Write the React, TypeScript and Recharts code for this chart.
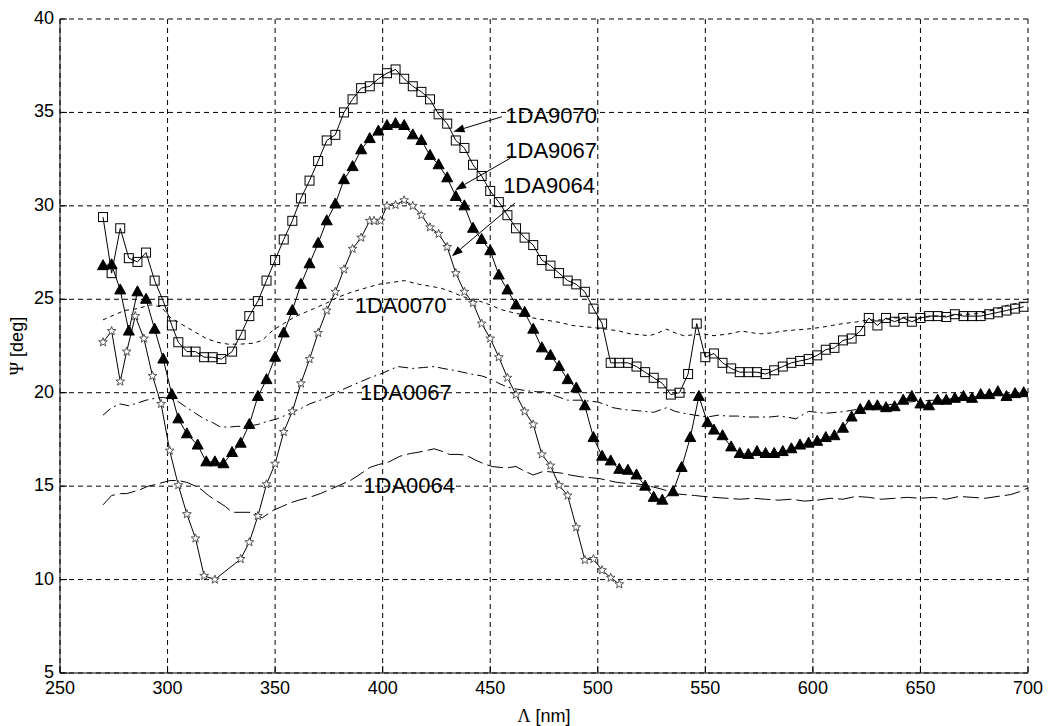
import React from 'react';
import { LineChart, Line, XAxis, YAxis, CartesianGrid, ReferenceLine, ReferenceDot } from 'recharts';

type Pt = [number, number];

const xTicks = [250, 300, 350, 400, 450, 500, 550, 600, 650, 700];
const yTicks = [5, 10, 15, 20, 25, 30, 35, 40];

// 1DA9070 - open squares
const sq9070: Pt[] = [
  [270, 29.4], [274, 26.4], [278, 28.8], [282, 27.2], [286, 27.0], [290, 27.5], [294, 26.0], [298, 24.9],
  [302, 23.6], [305, 22.7], [309, 22.2], [313, 22.2], [317, 21.9], [321, 21.9], [325, 21.8], [330, 22.2],
  [334, 23.1], [338, 24.1], [342, 24.9], [346, 26.0], [350, 27.1], [354, 28.2], [358, 29.2], [362, 30.4],
  [366, 31.35], [370, 32.4], [374, 33.5], [378, 33.8], [382, 35.0], [386, 35.7], [390, 36.3], [394, 36.4],
  [398, 36.8], [402, 37.1], [406, 37.3], [410, 36.8], [414, 36.4], [418, 36.1], [422, 35.7], [426, 34.9],
  [430, 34.4], [434, 33.5], [438, 33.1], [442, 32.2], [446, 31.6], [450, 30.8], [454, 30.2], [458, 29.5],
  [462, 28.8], [466, 28.3], [470, 27.9], [474, 27.1], [478, 26.8], [482, 26.4], [486, 26.0], [490, 25.8],
  [494, 25.4], [498, 24.5], [502, 23.7], [506, 21.6], [510, 21.6], [514, 21.6], [518, 21.4], [522, 21.1],
  [526, 20.8], [530, 20.5], [534, 19.9], [538, 20.0], [542, 21.0], [546, 23.7], [550, 21.9], [554, 22.1],
  [558, 21.6], [562, 21.3], [566, 21.1], [570, 21.1], [574, 21.1], [578, 21.0], [582, 21.2], [586, 21.4],
  [590, 21.6], [594, 21.7], [598, 21.8], [602, 22.0], [606, 22.3], [610, 22.4], [614, 22.8], [618, 22.9],
  [622, 23.3], [626, 24.0], [630, 23.6], [634, 24.0], [638, 23.8], [642, 24.0], [646, 23.8], [650, 24.0],
  [654, 24.1], [658, 24.1], [662, 24.05], [666, 24.2], [670, 24.1], [674, 24.1], [678, 24.1], [682, 24.2],
  [686, 24.3], [690, 24.4], [694, 24.5], [698, 24.6],
];

// 1DA9067 - filled triangles
const tri9067: Pt[] = [
  [270, 26.8], [274, 26.85], [278, 25.5], [282, 23.3], [286, 25.4], [290, 25.0], [294, 23.4], [298, 21.8],
  [302, 19.9], [305, 18.6], [309, 17.8], [314, 17.2], [318, 16.3], [322, 16.3], [326, 16.2], [330, 16.8],
  [334, 17.3], [338, 18.3], [342, 19.8], [346, 20.7], [350, 21.9], [354, 23.2], [358, 24.4], [362, 25.8],
  [366, 26.9], [370, 28.0], [374, 29.2], [378, 30.1], [382, 31.4], [386, 32.1], [390, 33.0], [394, 33.6],
  [398, 34.0], [402, 34.3], [406, 34.4], [410, 34.3], [414, 33.8], [418, 33.5], [422, 32.7], [426, 32.2],
  [430, 31.5], [434, 30.5], [438, 30.0], [442, 28.8], [446, 28.2], [450, 27.6], [454, 26.3], [458, 25.5],
  [462, 24.7], [466, 24.3], [470, 23.4], [474, 22.4], [478, 22.0], [482, 21.4], [486, 20.7], [490, 20.25],
  [494, 19.3], [498, 17.6], [502, 16.6], [506, 16.35], [510, 15.9], [514, 15.85], [518, 15.6], [522, 15.0],
  [526, 14.4], [530, 14.25], [535, 14.7], [539, 16.0], [543, 17.6], [547, 19.8], [551, 18.4], [554, 18.0],
  [558, 17.7], [562, 17.1], [566, 16.75], [570, 16.7], [574, 16.85], [578, 16.75], [582, 16.75], [586, 16.85],
  [590, 17.0], [594, 17.2], [598, 17.3], [602, 17.4], [606, 17.6], [610, 17.7], [614, 18.1], [618, 18.7],
  [622, 19.1], [626, 19.3], [630, 19.3], [634, 19.2], [638, 19.25], [642, 19.6], [646, 19.8], [650, 19.4],
  [654, 19.3], [658, 19.6], [662, 19.6], [666, 19.7], [670, 19.8], [674, 19.7], [678, 19.9], [682, 19.9],
  [686, 20.05], [690, 19.8], [694, 19.95], [698, 20.0],
];

// 1DA9064 - stars
const star9064: Pt[] = [
  [270, 22.7], [274, 23.3], [278, 20.6], [281, 22.2], [285, 24.1], [289, 22.9], [293, 20.9], [297, 19.4],
  [301, 16.9], [305, 15.05], [309, 13.5], [313, 12.2], [317, 10.2], [322, 10.0], [334, 11.1], [338, 12.0],
  [342, 13.4], [346, 15.1], [350, 16.2], [354, 17.9], [358, 19.0], [362, 20.5], [366, 21.8], [370, 23.2],
  [374, 24.4], [378, 25.4], [382, 26.6], [386, 27.7], [390, 28.3], [394, 29.2], [396, 29.2], [399, 29.2],
  [402, 30.0], [406, 30.05], [410, 30.3], [414, 30.0], [418, 29.5], [422, 28.85], [426, 28.5], [430, 27.8],
  [434, 26.4], [438, 25.4], [442, 24.8], [446, 23.7], [450, 22.9], [454, 21.9], [458, 20.8], [462, 19.9],
  [466, 19.0], [470, 18.3], [474, 16.7], [478, 16.1], [482, 15.05], [486, 14.5], [490, 12.8], [494, 11.05],
  [498, 11.1], [502, 10.5], [506, 10.1], [510, 9.75],
];

// 1DA0070 - dashed
const c0070: Pt[] = [
  [270, 23.9], [275, 24.15], [280, 24.4], [286, 24.5], [292, 24.7], [297, 24.6], [301, 24.05], [306, 23.7],
  [312, 23.3], [318, 22.9], [323, 22.7], [328, 22.6], [334, 22.6], [340, 22.65], [344, 22.8], [349, 23.35],
  [354, 23.7], [359, 24.05], [364, 24.3], [368, 24.5], [374, 24.8], [379, 25.1], [386, 25.4], [392, 25.6],
  [398, 25.8], [404, 25.9], [410, 26.0], [417, 25.8], [422, 25.7], [427, 25.6], [432, 25.4], [436, 25.2],
  [441, 25.0], [445, 24.9], [450, 24.7], [455, 24.45], [460, 24.3], [464, 24.2], [470, 24.0], [475, 23.9],
  [483, 23.75], [488, 23.6], [492, 23.55], [497, 23.5], [504, 23.4], [510, 23.3], [515, 23.15], [520, 23.1],
  [524, 23.05], [528, 23.2], [532, 23.4], [536, 23.2], [540, 23.05], [545, 23.1], [549, 23.15], [554, 23.05],
  [561, 23.15], [567, 23.3], [572, 23.2], [576, 23.15], [581, 23.2], [586, 23.3], [591, 23.35], [597, 23.4],
  [604, 23.5], [609, 23.6], [614, 23.7], [621, 23.8], [626, 23.9], [632, 23.9], [638, 24.0], [644, 24.05],
  [650, 24.0], [656, 24.1], [662, 24.1], [668, 24.2], [674, 24.2], [680, 24.3], [686, 24.5], [691, 24.7],
  [696, 24.8], [700, 24.85],
];

// 1DA0067 - dash-dot
const c0067: Pt[] = [
  [270, 18.8], [274, 19.2], [278, 19.4], [282, 19.3], [286, 19.45], [290, 19.6], [294, 19.7], [298, 19.75],
  [304, 19.6], [309, 19.2], [313, 18.9], [317, 18.6], [321, 18.4], [324, 18.2], [328, 18.15], [332, 18.2],
  [337, 18.2], [342, 18.3], [346, 18.45], [351, 18.6], [356, 18.85], [362, 19.15], [366, 19.4], [371, 19.6],
  [376, 19.85], [380, 20.1], [385, 20.35], [390, 20.6], [394, 20.8], [399, 21.0], [403, 21.2], [407, 21.4],
  [414, 21.3], [419, 21.35], [424, 21.4], [428, 21.3], [433, 21.2], [437, 21.1], [441, 21.0], [446, 20.9],
  [450, 20.75], [454, 20.5], [458, 20.3], [462, 20.2], [467, 20.1], [472, 20.05], [476, 20.05], [481, 19.8],
  [486, 19.6], [492, 19.6], [496, 19.55], [500, 19.5], [504, 19.35], [507, 19.2], [512, 19.1], [517, 19.05],
  [522, 19.0], [526, 18.95], [532, 19.2], [536, 19.0], [540, 18.9], [545, 18.8], [551, 18.7], [556, 18.8],
  [560, 18.75], [565, 18.75], [570, 18.7], [575, 18.7], [580, 18.7], [584, 18.75], [588, 18.7], [592, 18.6],
  [598, 19.0], [602, 18.95], [606, 18.9], [611, 18.95], [615, 19.0], [620, 19.1], [626, 19.25], [632, 19.3],
  [638, 19.4], [644, 19.5], [650, 19.55], [656, 19.6], [662, 19.65], [668, 19.7], [674, 19.75], [680, 19.8],
  [686, 19.85], [692, 19.9], [700, 20.0],
];

// 1DA0064 - long dash
const c0064: Pt[] = [
  [270, 14.0], [274, 14.5], [278, 14.6], [281, 14.6], [287, 14.8], [291, 15.0], [295, 15.1], [301, 15.3],
  [305, 15.3], [309, 15.2], [313, 15.0], [316, 14.8], [319, 14.5], [323, 14.2], [327, 13.9], [330, 13.6],
  [335, 13.6], [340, 13.6], [344, 13.3], [349, 13.7], [353, 13.9], [357, 14.1], [361, 14.25], [366, 14.4],
  [371, 14.6], [375, 14.8], [380, 15.05], [385, 15.3], [389, 15.6], [394, 16.0], [398, 16.15], [403, 16.3],
  [408, 16.6], [413, 16.75], [416, 16.8], [420, 16.9], [424, 17.0], [428, 16.85], [431, 16.7], [435, 16.7],
  [439, 16.65], [443, 16.4], [447, 16.2], [451, 16.05], [455, 16.0], [459, 16.0], [462, 16.05], [466, 15.8],
  [470, 15.6], [475, 15.8], [479, 15.75], [483, 15.7], [487, 15.6], [492, 15.5], [497, 15.45], [501, 15.4],
  [505, 15.3], [509, 15.2], [513, 15.15], [517, 15.15], [522, 15.05], [526, 14.95], [531, 14.8], [535, 14.6],
  [540, 14.55], [545, 14.5], [549, 14.45], [554, 14.4], [560, 14.35], [566, 14.3], [572, 14.35], [578, 14.3],
  [584, 14.25], [590, 14.3], [596, 14.2], [602, 14.25], [608, 14.35], [614, 14.3], [620, 14.45], [626, 14.4],
  [632, 14.3], [638, 14.35], [644, 14.4], [650, 14.35], [656, 14.4], [662, 14.3], [668, 14.45], [674, 14.4],
  [680, 14.35], [686, 14.45], [692, 14.55], [696, 14.7], [700, 14.9],
];

// labels in the plot, anchored at their left edge / vertical centre (data units)
const labelNames = ['1DA9070', '1DA9067', '1DA9064', '1DA0070', '1DA0067', '1DA0064'];
const labelX = [457, 457, 456, 387, 389.5, 391];
const labelY = [34.85, 33.0, 31.1, 24.7, 20.06, 15.07];

// arrows from the labels to the curves: [fromX, fromY, toX, toY]
const arrows: [number, number, number, number][] = [
  [455.4, 34.77, 432.9, 33.97],
  [459.3, 32.55, 433.7, 30.85],
  [461.6, 30.16, 432.2, 27.3],
];

const FONT = 'Liberation Sans, Arial, Helvetica, sans-serif';
const TICK_LEN = 7;

const rows = (pts: Pt[]) => pts.map(([x, y]) => ({ x, y }));

const SquareDot = (p: any) => (
  <rect key={p.key} x={p.cx - 4.5} y={p.cy - 4.5} width={9} height={9} fill="none" stroke="#000" strokeWidth={1} />
);

const TriangleDot = (p: any) => (
  <polygon
    key={p.key}
    points={`${p.cx},${p.cy - 6} ${p.cx - 5.5},${p.cy + 4} ${p.cx + 5.5},${p.cy + 4}`}
    fill="#000"
    stroke="#000"
  />
);

const StarDot = (p: any) => {
  const pts: string[] = [];
  for (let i = 0; i < 10; i++) {
    const r = i % 2 === 0 ? 4.6 : 1.9;
    const a = -Math.PI / 2 + (i * Math.PI) / 5;
    pts.push(`${p.cx + r * Math.cos(a)},${p.cy + r * Math.sin(a)}`);
  }
  return <polygon key={p.key} points={pts.join(' ')} fill="#fff" stroke="#444" strokeWidth={0.9} />;
};

const BottomTick = (p: any) => {
  const { x, y, payload } = p;
  const axisY = y - 6;
  return (
    <g>
      <line x1={x} y1={axisY} x2={x} y2={axisY - TICK_LEN} stroke="#000" />
      <text x={x} y={y + 15} textAnchor="middle" fontSize={18} fontFamily={FONT} fill="#000">
        {payload.value}
      </text>
    </g>
  );
};

const LeftTick = (p: any) => {
  const { x, y, payload } = p;
  const axisX = x + 6;
  return (
    <g>
      <line x1={axisX} y1={y} x2={axisX + TICK_LEN} y2={y} stroke="#000" />
      <text x={x} y={y + 5} textAnchor="end" fontSize={18} fontFamily={FONT} fill="#000">
        {payload.value}
      </text>
    </g>
  );
};

const TopTick = (p: any) => (
  <line x1={p.x} y1={p.y} x2={p.x} y2={p.y + TICK_LEN} stroke="#000" />
);

const RightTick = (p: any) => (
  <line x1={p.x} y1={p.y} x2={p.x - TICK_LEN} y2={p.y} stroke="#000" />
);

const XLabel = (p: any) => {
  const vb = p.viewBox;
  return (
    <text x={vb.x + vb.width / 2} y={vb.y + vb.height - 4} textAnchor="middle" fontSize={18} fontFamily={FONT} fill="#000">
      <tspan fontFamily="Liberation Serif, serif">Λ</tspan> [nm]
    </text>
  );
};

const YLabel = (p: any) => {
  const vb = p.viewBox;
  const cx = vb.x + 23;
  const cy = vb.y + vb.height / 2;
  return (
    <text x={cx} y={cy} transform={`rotate(-90 ${cx} ${cy})`} textAnchor="middle" fontSize={18} fontFamily={FONT} fill="#000">
      <tspan fontFamily="Liberation Serif, serif">Ψ</tspan> [deg]
    </text>
  );
};

const Arrow = (p: any) => {
  const { x1, y1, x2, y2 } = p;
  const a = Math.atan2(y2 - y1, x2 - x1);
  const len = 11;
  const w = 4;
  const bx = x2 - len * Math.cos(a);
  const by = y2 - len * Math.sin(a);
  const nx = -Math.sin(a) * w;
  const ny = Math.cos(a) * w;
  return (
    <g>
      <line x1={x1} y1={y1} x2={bx} y2={by} stroke="#000" strokeWidth={1} />
      <polygon points={`${x2},${y2} ${bx + nx},${by + ny} ${bx - nx},${by - ny}`} fill="#000" />
    </g>
  );
};

export default function App() {
  const lineBase = {
    type: 'linear' as const,
    dataKey: 'y',
    stroke: '#000',
    strokeWidth: 1,
    isAnimationActive: false,
    activeDot: false,
  };

  return (
    <div style={{ position: 'absolute', left: 0, top: 0, background: '#fff' }}>
      <LineChart width={1055} height={726} margin={{ top: 19, right: 27, bottom: 0, left: 0 }}>
        <CartesianGrid stroke="#000" strokeDasharray="5 4" strokeWidth={1} />
        <XAxis
          dataKey="x"
          type="number"
          domain={[250, 700]}
          ticks={xTicks}
          allowDataOverflow
          height={53}
          tickSize={0}
          tickMargin={6}
          tickLine={false}
          tick={<BottomTick />}
          axisLine={{ stroke: '#000' }}
          label={<XLabel />}
        />
        <XAxis
          xAxisId="top"
          orientation="top"
          type="number"
          domain={[250, 700]}
          ticks={xTicks}
          height={0}
          tickSize={0}
          tickMargin={0}
          tickLine={false}
          tick={<TopTick />}
          axisLine={{ stroke: '#000' }}
        />
        <YAxis
          type="number"
          domain={[5, 40]}
          ticks={yTicks}
          allowDataOverflow
          width={60}
          tickSize={0}
          tickMargin={6}
          tickLine={false}
          tick={<LeftTick />}
          axisLine={{ stroke: '#000' }}
          label={<YLabel />}
        />
        <YAxis
          yAxisId="right"
          orientation="right"
          type="number"
          domain={[5, 40]}
          ticks={yTicks}
          width={0}
          tickSize={0}
          tickMargin={0}
          tickLine={false}
          tick={<RightTick />}
          axisLine={{ stroke: '#000' }}
        />

        <Line {...lineBase} data={rows(c0070)} strokeDasharray="4 4" dot={false} />
        <Line {...lineBase} data={rows(c0067)} strokeDasharray="10 4 2 4" dot={false} />
        <Line {...lineBase} data={rows(c0064)} strokeDasharray="16 5" dot={false} />
        <Line {...lineBase} data={rows(star9064)} dot={StarDot} />
        <Line {...lineBase} data={rows(tri9067)} dot={TriangleDot} />
        <Line {...lineBase} data={rows(sq9070)} dot={SquareDot} />

        {arrows.map(([fx, fy, tx, ty], i) => (
          <ReferenceLine
            key={`arrow-${i}`}
            segment={[{ x: fx, y: fy }, { x: tx, y: ty }]}
            shape={Arrow}
          />
        ))}
        {labelNames.map((name, i) => (
          <ReferenceDot
            key={name}
            x={labelX[i]}
            y={labelY[i]}
            r={0}
            shape={(p: any) => (
              <text x={p.cx} y={p.cy + 8} fontSize={22} fontFamily={FONT} fill="#000">
                {name}
              </text>
            )}
          />
        ))}
      </LineChart>
    </div>
  );
}
